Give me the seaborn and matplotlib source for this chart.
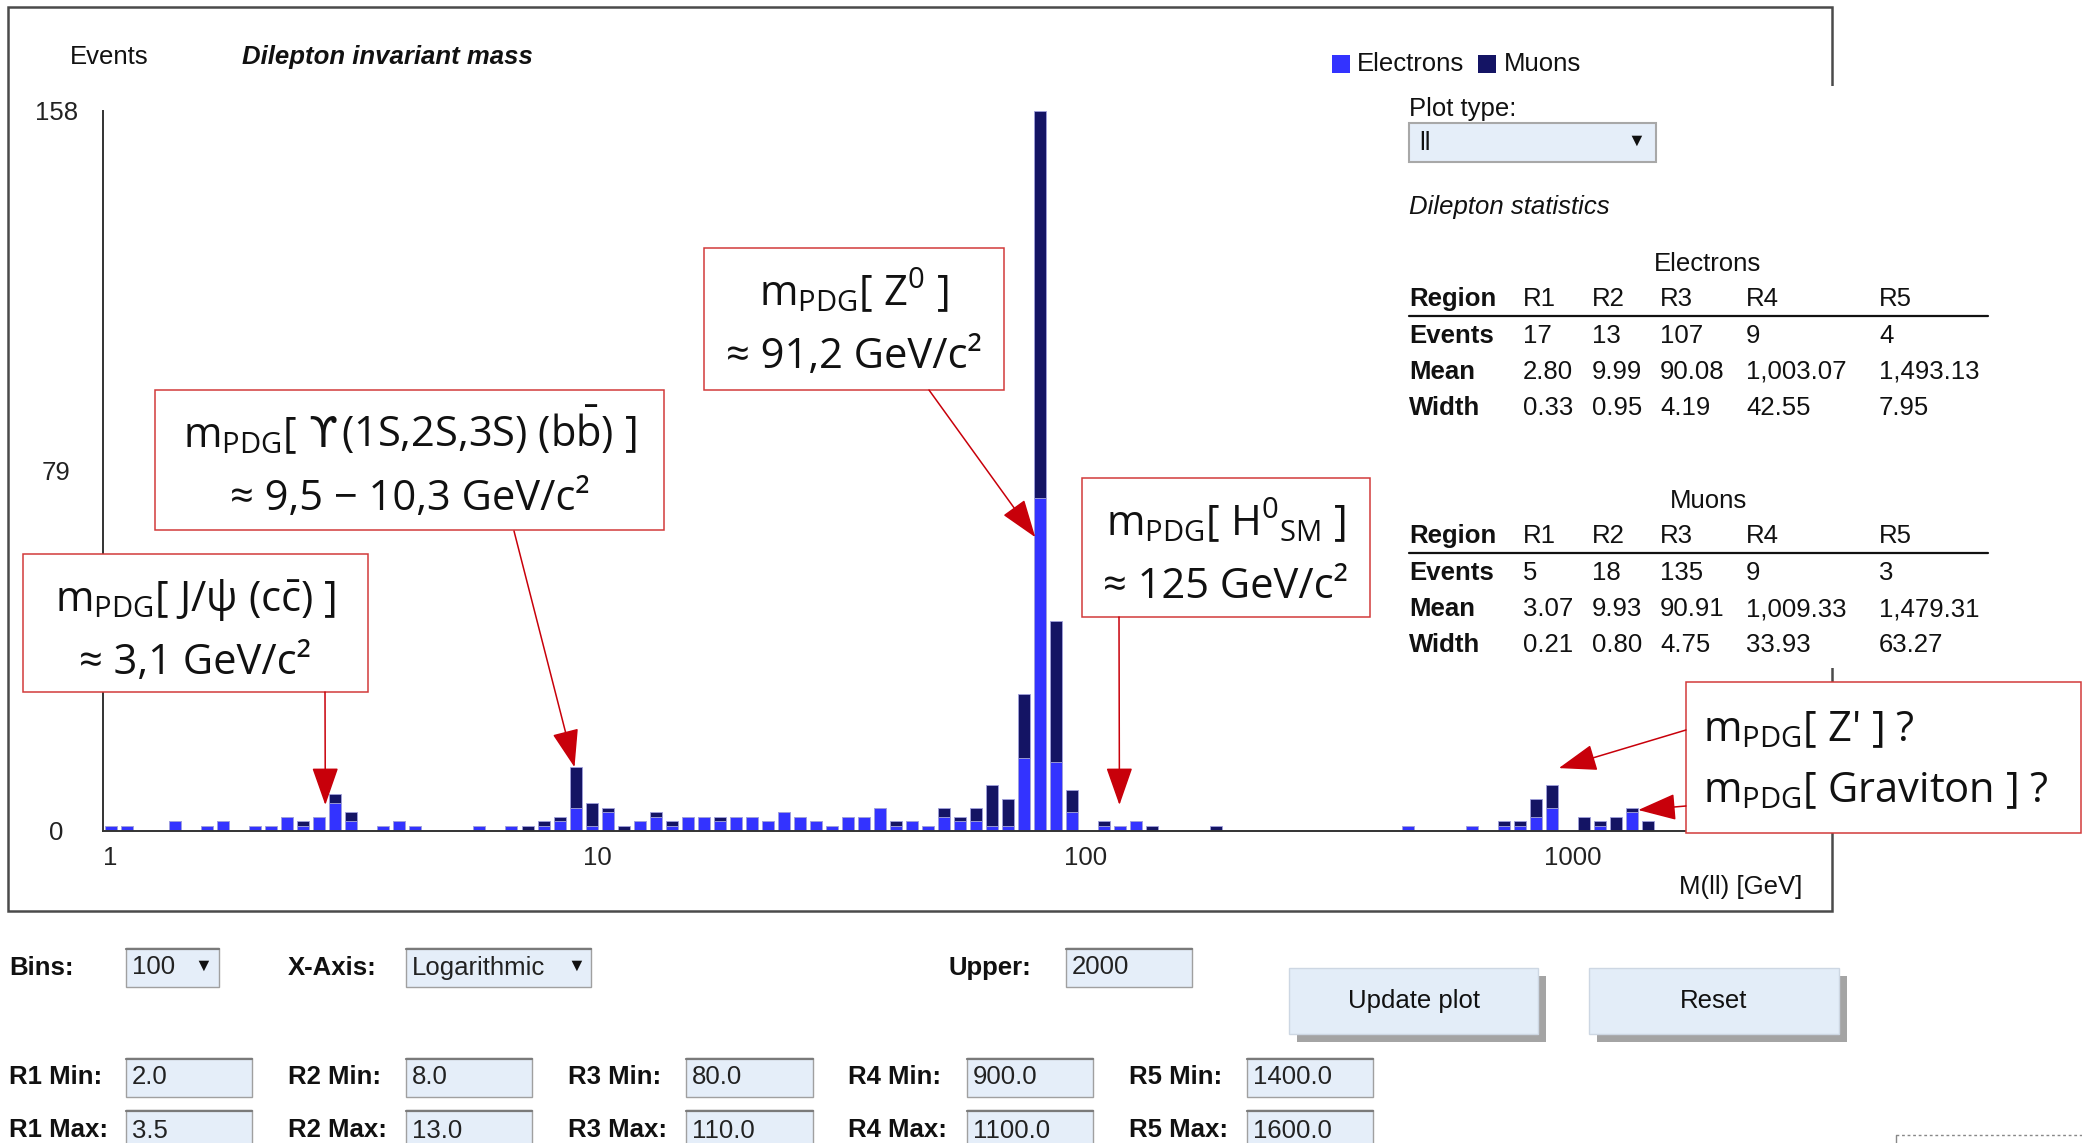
import numpy as np
import pandas as pd
import matplotlib
matplotlib.use("Agg")
import matplotlib.pyplot as plt
from matplotlib.patches import Rectangle, ArrowStyle
from matplotlib.ticker import NullFormatter
import seaborn as sns

sns.set_style("white")
plt.rcParams["font.family"] = ["Liberation Sans", "DejaVu Sans"]
plt.rcParams["mathtext.fontset"] = "custom"
plt.rcParams["mathtext.rm"] = "Open Sans"
plt.rcParams["mathtext.it"] = "Open Sans:italic"
plt.rcParams["mathtext.bf"] = "Open Sans:bold"
plt.rcParams["mathtext.sf"] = "Open Sans"
plt.rcParams["mathtext.fallback"] = "stixsans"

# ---------------------------------------------------------------- data
BINS_PER_DECADE = 30          # log-spaced bins as drawn in the picture
N_BINS = 100

electrons = [1, 1, 0, 0, 2, 0, 1, 2, 0, 1,
             1, 3, 1, 3, 6, 2, 0, 1, 2, 1,
             0, 0, 0, 1, 0, 1, 0, 1, 2, 5,
             1, 4, 0, 2, 3, 1, 3, 3, 2, 3,
             3, 2, 4, 3, 2, 1, 3, 3, 5, 1,
             2, 1, 3, 2, 2, 1, 1, 16, 73, 15,
             4, 0, 1, 1, 2, 0, 0, 0, 0, 0,
             0, 0, 0, 0, 0, 0, 0, 0, 0, 0,
             0, 1, 0, 0, 0, 1, 0, 1, 1, 3,
             5, 0, 0, 1, 0, 4, 0, 0, 0, 0]

muons = [0, 0, 0, 0, 0, 0, 0, 0, 0, 0,
         0, 0, 1, 0, 2, 2, 0, 0, 0, 0,
         0, 0, 0, 0, 0, 0, 1, 1, 1, 9,
         5, 1, 1, 0, 1, 1, 0, 0, 1, 0,
         0, 0, 0, 0, 0, 0, 0, 0, 0, 1,
         0, 0, 2, 1, 3, 9, 6, 14, 85, 31,
         5, 0, 1, 0, 0, 1, 0, 0, 0, 1,
         0, 0, 0, 0, 0, 0, 0, 0, 0, 0,
         0, 0, 0, 0, 0, 0, 0, 1, 1, 4,
         5, 0, 3, 1, 3, 1, 2, 0, 0, 0]

lepton_names = ["Electrons", "Muons"]
x_major_ticks = [1, 10, 100, 1000]
x_major_labels = ["1", "10", "100", "1000"]
y_ticks = [0, 79, 158]
y_tick_labels = ["0", "79", "158"]

table_header = ["Region", "R1", "R2", "R3", "R4", "R5"]
table_rows = ["Events", "Mean", "Width"]
ele_events = ["17", "13", "107", "9", "4"]
ele_mean = ["2.80", "9.99", "90.08", "1,003.07", "1,493.13"]
ele_width = ["0.33", "0.95", "4.19", "42.55", "7.95"]
mu_events = ["5", "18", "135", "9", "3"]
mu_mean = ["3.07", "9.93", "90.91", "1,009.33", "1,479.31"]
mu_width = ["0.21", "0.80", "4.75", "33.93", "63.27"]

region_min = ["2.0", "8.0", "80.0", "900.0", "1400.0"]
region_max = ["3.5", "13.0", "110.0", "1100.0", "1600.0"]

# first lines of the annotation boxes, as pieces (text, uses symbol font, gap after)
ann_line1 = [[(r"m$_{\mathrm{PDG}}$[ J/ψ (c$\bar{\mathrm{c}}$) ]", False, 0)],
             [(r"m$_{\mathrm{PDG}}$[", False, 11), ("ϒ", True, 3),
              (r"(1S,2S,3S) (b$\bar{\mathrm{b}}$) ]", False, 0)],
             [(r"m$_{\mathrm{PDG}}$[ Z$^{0}$ ]", False, 0)],
             [(r"m$_{\mathrm{PDG}}$[ H$^{0}$$_{\mathrm{SM}}$ ]", False, 0)]]
ann_line2 = ["≈ 3,1 GeV/c²", "≈ 9,5 − 10,3 GeV/c²", "≈ 91,2 GeV/c²", "≈ 125 GeV/c²"]
ann_tip_mass = [2.9, 9.58, 87.3, 130.7]
ann_tip_events = [5.6, 13.9, 64.4, 5.6]
bsm_lines = [r"m$_{\mathrm{PDG}}$[ Z' ] ?", r"m$_{\mathrm{PDG}}$[ Graviton ] ?"]
bsm_tip_mass = [1075, 1573]
bsm_tip_events = [13.7, 4.5]

# ---------------------------------------------------------------- style
W, H = 2082, 1143
FS = 18.5
BLUE = "#3333ff"
NAVY = "#141464"
RED = "#c8000a"
BOXRED = "#d23a3a"
INPUT = "#e5eef9"

fig = plt.figure(figsize=(W / 100, H / 100), dpi=100)
fig.patch.set_facecolor("white")


def px_axes(x0, y0, x1, y1, **kw):
    return fig.add_axes([x0 / W, 1 - y1 / H, (x1 - x0) / W, (y1 - y0) / H], **kw)


# ---------------------------------------------------------------- histogram
ax = px_axes(103.3, 111, 1688.3, 830.5)
centers = 10 ** ((np.arange(N_BINS) + 0.5) / BINS_PER_DECADE)
df = pd.DataFrame({
    "mass": np.concatenate([centers, centers]),
    "events": electrons + muons,
    "lepton": [lepton_names[0]] * N_BINS + [lepton_names[1]] * N_BINS,
})
log_edges = (np.arange(N_BINS + 1) / BINS_PER_DECADE).tolist()
sns.histplot(data=df, x="mass", weights="events", hue="lepton",
             hue_order=[lepton_names[1], lepton_names[0]],
             multiple="stack", bins=log_edges, log_scale=True,
             palette={lepton_names[0]: BLUE, lepton_names[1]: NAVY},
             shrink=0.75, alpha=1, edgecolor="#a0a0dc", linewidth=0.6,
             legend=False, ax=ax)
ax.set_xlim(1, 2000)
ax.set_ylim(0, 158)
ax.set_xlabel("")
ax.set_ylabel("")
ax.set_facecolor("none")
for s in ["top", "right"]:
    ax.spines[s].set_visible(False)
for s in ["left", "bottom"]:
    ax.spines[s].set_color("#333333")
    ax.spines[s].set_linewidth(1.4)
ax.set_xticks(x_major_ticks)
ax.set_xticklabels(x_major_labels, ha="left")
minor = [k * 10 ** d for d in range(4) for k in range(2, 10) if k * 10 ** d <= 2000]
ax.set_xticks(minor, minor=True)
ax.xaxis.set_minor_formatter(NullFormatter())
ax.tick_params(axis="x", which="both", direction="out", length=4.5, width=1.3,
               color="#444444", pad=7, labelsize=FS, labelcolor="#222222")
ax.set_yticks(y_ticks)
ax.set_yticklabels(y_tick_labels, ha="center")
ax.tick_params(axis="y", direction="inout", length=10, width=1.2,
               color="#333333", pad=29, labelsize=FS, labelcolor="#222222")

# ---------------------------------------------------------------- overlay
ov = px_axes(0, 0, W, H, zorder=10)
ov.set_xlim(0, W)
ov.set_ylim(H, 0)
ov.axis("off")
renderer = fig.canvas.get_renderer()


def txt(x, y, s, ha="left", va="center", size=FS, **kw):
    ov.text(x, y, s, ha=ha, va=va, fontsize=size, color=kw.pop("color", "#111111"), **kw)


def rect(x0, y0, x1, y1, **kw):
    ov.add_patch(Rectangle((x0, y0), x1 - x0, y1 - y0, **kw))


# outer frame and side panel
rect(8, 7, 1832, 911, fill=False, ec="#4a4a4a", lw=1.8, zorder=1)
rect(1392, 86, W, 668, fc="white", ec="none", zorder=2)

txt(70, 57, "Events", zorder=3)
txt(242, 57, "Dilepton invariant mass", fontweight="bold", fontstyle="italic", zorder=3)
rect(1332, 55, 1350, 73, fc=BLUE, ec="none", zorder=3)
txt(1357, 64, lepton_names[0], zorder=3)
rect(1478, 55, 1496, 73, fc=NAVY, ec="none", zorder=3)
txt(1504, 64, lepton_names[1], zorder=3)
txt(1802, 887, "M(ll) [GeV]", ha="right", zorder=3)

# side panel contents
txt(1409, 109, "Plot type:", zorder=3)
rect(1409, 123, 1656, 162, fc=INPUT, ec="#a8a8a8", lw=1.5, zorder=3)
txt(1419, 143, "ll", zorder=4)
txt(1636, 141, "▼", ha="center", size=13, zorder=4)
txt(1409, 207, "Dilepton statistics", fontstyle="italic", zorder=3)

col_x = [1409, 1523, 1592, 1660, 1746, 1879]


def stats_table(y_title, title, events, mean, width):
    txt(1708, y_title, title, ha="center", zorder=3)
    yh = y_title + 35
    for i, h in enumerate(table_header):
        txt(col_x[i], yh, h, fontweight="bold" if i == 0 else "normal", zorder=3)
    ov.plot([1409, 1988], [yh + 17, yh + 17], color="#111111", lw=1.6, zorder=3)
    for r, (name, vals) in enumerate(zip(table_rows, [events, mean, width])):
        y = yh + 37 + r * 36
        txt(col_x[0], y, name, fontweight="bold", zorder=3)
        for i, v in enumerate(vals):
            txt(col_x[i + 1], y, v, zorder=3)


stats_table(264, "Electrons", ele_events, ele_mean, ele_width)
stats_table(501, "Muons", mu_events, mu_mean, mu_width)

# annotation boxes with arrows
ann_font = ["Open Sans", "DejaVu Sans"]
sym_font = ["DejaVu Sans"]
AFS = 30
arrow = ArrowStyle("-|>", head_length=0.8, head_width=0.28)


def rich_line(xc, yb, pieces):
    arts = []
    for s, sym, gap in pieces:
        arts.append(ov.text(0, yb, s, ha="left", va="baseline", fontsize=AFS,
                            family=sym_font if sym else ann_font,
                            color="#111111", zorder=6))
    widths = [a.get_window_extent(renderer).width + gap
              for a, (s, sym, gap) in zip(arts, pieces)]
    x = xc - sum(widths) / 2
    for a, w in zip(arts, widths):
        a.set_x(x)
        x += w


boxes = [(23, 554, 368, 692), (155, 390, 664, 530), (704, 248, 1004, 390), (1082, 478, 1370, 617)]
starts = [(325, 692), (514, 531), (929, 390), (1119, 617)]
for i, (x0, y0, x1, y1) in enumerate(boxes):
    rect(x0, y0, x1, y1, fc="white", ec=BOXRED, lw=1.1, zorder=5)
    cx = (x0 + x1) / 2
    rich_line(cx, y0 + 57, ann_line1[i])
    ov.text(cx, y0 + 120, ann_line2[i], ha="center", va="baseline", fontsize=AFS,
            family=ann_font, color="#111111", zorder=6)
    ov.annotate("", xy=(ann_tip_mass[i], ann_tip_events[i]), xycoords=ax.transData,
                xytext=starts[i], textcoords="data",
                arrowprops=dict(arrowstyle=arrow, mutation_scale=30, color=RED,
                                lw=1.1, shrinkA=0, shrinkB=0), zorder=7)

rect(1686, 682, 2081, 833, fc="white", ec=BOXRED, lw=1.1, zorder=5)
for j, (s, y) in enumerate(zip(bsm_lines, [741, 802])):
    ov.text(1703, y, s, ha="left", va="baseline", fontsize=AFS, family=ann_font,
            color="#111111", zorder=6)
for j, st in enumerate([(1686, 730), (1686, 806)]):
    ov.annotate("", xy=(bsm_tip_mass[j], bsm_tip_events[j]), xycoords=ax.transData,
                xytext=st, textcoords="data",
                arrowprops=dict(arrowstyle=arrow, mutation_scale=30, color=RED,
                                lw=1.1, shrinkA=0, shrinkB=0), zorder=7)

# ---------------------------------------------------------------- form controls
def input_box(x0, y0, x1, y1, text=None, arrow_x=None):
    rect(x0, y0, x1, y1, fc=INPUT, ec="#a0a0a0", lw=1.0, zorder=3)
    ov.plot([x0, x1], [y0 + 1, y0 + 1], color="#7a7a7a", lw=1.6, zorder=4)
    if text is not None:
        txt(x0 + 6, (y0 + y1) / 2, text, zorder=4, color="#222222")
    if arrow_x is not None:
        txt(arrow_x, (y0 + y1) / 2 - 1, "▼", ha="center", size=13, zorder=4)


txt(9, 968, "Bins:", fontweight="bold")
input_box(126, 948, 219, 987, "100", 203)
txt(288, 968, "X-Axis:", fontweight="bold")
input_box(406, 948, 591, 987, "Logarithmic", 576)
txt(948, 968, "Upper:", fontweight="bold")
input_box(1066, 948, 1192, 987, "2000")

for (x0, x1, label) in [(1289, 1538, "Update plot"), (1589, 1839, "Reset")]:
    rect(x0 + 8, 976, x1 + 8, 1042, fc="#a4a4a4", ec="none", zorder=2)
    rect(x0, 968, x1, 1034, fc="#e3edf8", ec="#cdd7e3", lw=1.0, zorder=3)
    txt((x0 + x1) / 2, 1001, label, ha="center", zorder=4)

lab_x = [9, 288, 568, 848, 1129]
box_x = [(126, 252), (406, 532), (686, 813), (967, 1093), (1247, 1373)]
for i in range(5):
    txt(lab_x[i], 1077, f"R{i + 1} Min:", fontweight="bold")
    input_box(box_x[i][0], 1058, box_x[i][1], 1097, region_min[i])
    txt(lab_x[i], 1130, f"R{i + 1} Max:", fontweight="bold")
    input_box(box_x[i][0], 1110, box_x[i][1], 1152, region_max[i])

ov.plot([1896, 2082], [1135, 1135], color="#888888", lw=1.0, ls=(0, (2, 2)))
ov.plot([1896, 1896], [1135, 1143], color="#888888", lw=1.0)

fig.savefig("out.png", dpi=100)
